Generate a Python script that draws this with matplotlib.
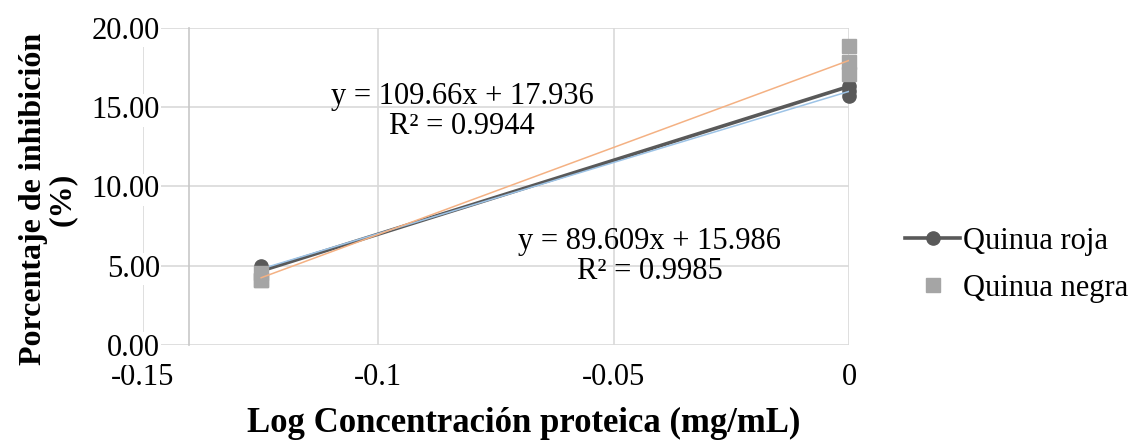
import matplotlib
matplotlib.use("Agg")
import matplotlib.pyplot as plt
import numpy as np

plt.rcParams['font.family'] = ['Liberation Serif', 'DejaVu Serif']

# data
x_roja = [-0.1249, -0.1249, -0.1249, 0, 0, 0]
y_roja = [4.95, 4.75, 4.67, 16.3, 16.0, 15.7]
x_negra = [-0.1249, -0.1249, -0.1249, 0, 0, 0]
y_negra = [4.55, 4.10, 4.07, 18.87, 17.85, 17.10]

fit_roja = [89.609, 15.986]
fit_negra = [109.66, 17.936]
r2_roja = 0.9985
r2_negra = 0.9944

xticks = [-0.15, -0.1, -0.05, 0]
xtick_labels = ["-0.15", "-0.1", "-0.05", "0"]
yticks = [0, 5, 10, 15, 20]

fig = plt.figure(figsize=(11.32, 4.41), dpi=100)
ax = fig.add_axes([143 / 1132, 1 - 345 / 441, (849 - 143) / 1132, (345 - 27.7) / 441])

ax.set_xlim(-0.15, 0)
ax.set_ylim(0, 20)
ax.set_xticks(xticks)
ax.set_xticklabels(xtick_labels)
ax.set_yticks(yticks)
ax.set_yticklabels([f"{v:.2f}" for v in yticks])
ax.grid(True, color="#d9d9d9", linewidth=1.2)
ax.set_axisbelow(True)

for s in ["top", "right", "bottom"]:
    ax.spines[s].set_visible(False)
ax.spines["left"].set_position(("data", -0.1402))
ax.spines["left"].set_color("#c8c8c8")
ax.spines["left"].set_linewidth(1.2)
ax.tick_params(axis="y", length=0, pad=21, labelsize=22)
ax.tick_params(axis="x", length=0, pad=13, labelsize=22)
for lab in ax.get_yticklabels():
    lab.set_bbox(dict(facecolor="white", edgecolor="none", pad=1))

# series
ax.plot(x_roja, y_roja, color="#595959", linewidth=2.6, marker="o",
        markersize=9.5, clip_on=False, zorder=3, label="Quinua roja")
ax.plot(x_negra, y_negra, linestyle="none", color="#a5a5a5", marker="s",
        markersize=9.5, clip_on=False, zorder=4, label="Quinua negra")

# trendlines
xt = np.array([min(x_roja), max(x_roja)])
ax.plot(xt, fit_roja[0] * xt + fit_roja[1], color="#9dc3e6", linewidth=1.1, zorder=3.5)
xt = np.array([min(x_negra), max(x_negra)])
ax.plot(xt, fit_negra[0] * xt + fit_negra[1], color="#f4b183", linewidth=1.1, zorder=5)

ax.text(-0.0822, 14.7, f"y = {fit_negra[0]:.2f}x + {fit_negra[1]:.3f}\nR² = {r2_negra:.4f}",
        ha="center", va="center", fontsize=22, linespacing=1.05)
ax.text(-0.0423, 5.6, f"y = {fit_roja[0]:.3f}x + {fit_roja[1]:.3f}\nR² = {r2_roja:.4f}",
        ha="center", va="center", fontsize=22, linespacing=1.05)

fig.text(524 / 1132, 1 - 423 / 441, "Log Concentración proteica (mg/mL)",
         ha="center", va="center", fontsize=25, fontweight="bold")
fig.text(48 / 1132, 1 - 199 / 441, "Porcentaje de inhibición\n(%)",
         ha="center", va="center", rotation=90, fontsize=23, fontweight="bold",
         multialignment="center", linespacing=1.0)

fig.legend(loc="center left", bbox_to_anchor=(893 / 1132, 1 - 265 / 441),
           frameon=False, fontsize=22, handlelength=1.8, handletextpad=0.1,
           labelspacing=0.6, borderaxespad=0)

fig.savefig("out.png", dpi=100)
